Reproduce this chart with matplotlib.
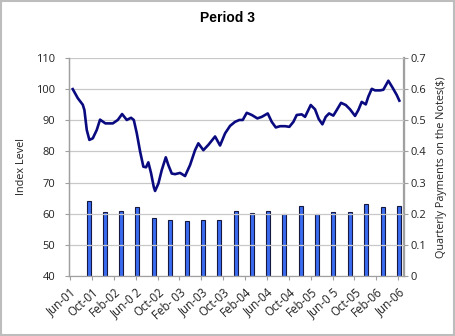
import matplotlib
matplotlib.use("Agg")
import matplotlib.pyplot as plt
from matplotlib.patches import Rectangle

# Index level, x in months since 1 Jun 2001
index_months = [0.49, 1.41, 2.32, 2.62, 3.05, 3.53, 4.15, 4.88, 5.48, 6.46, 7.81, 8.72,
                9.51, 10.37, 11.15, 11.65, 12.20, 12.80, 13.40, 13.89, 14.31, 14.81,
                15.30, 15.54, 16.15, 16.76, 17.50, 17.97, 18.59, 19.19, 20.11, 21.02,
                21.93, 22.85, 23.45, 24.37, 25.28, 26.51, 27.42, 28.34, 29.25, 30.16,
                30.95, 31.57, 32.30, 33.22, 34.24, 35.05, 36.14, 36.87, 37.61, 38.39,
                39.31, 40.09, 40.83, 41.44, 42.35, 42.96, 44.00, 44.79, 45.46, 46.13,
                46.74, 47.35, 48.13, 48.76, 49.54, 50.40, 51.19, 52.10, 52.71, 53.32,
                54.06, 54.53, 55.16, 55.75, 56.67, 57.27, 58.19, 58.92, 59.73, 60.20]
index_level = [100.0, 97.1, 95.0, 93.3, 86.9, 83.7, 84.2, 86.9, 90.2, 89.0, 89.0, 90.1,
               92.0, 90.1, 90.8, 90.1, 85.8, 80.0, 75.1, 74.9, 76.5, 73.0,
               68.6, 67.3, 69.7, 74.0, 78.1, 75.6, 72.9, 72.7, 73.1, 72.1,
               75.6, 80.4, 82.6, 80.4, 82.1, 84.8, 81.9, 85.8, 88.2, 89.5,
               90.1, 90.1, 92.4, 91.7, 90.6, 91.1, 92.2, 89.5, 87.7, 88.1,
               88.1, 87.9, 89.5, 91.7, 91.9, 91.1, 94.9, 93.5, 90.4, 88.7,
               91.1, 92.2, 91.5, 93.3, 95.6, 94.9, 93.5, 91.4, 93.3, 95.9,
               95.1, 97.6, 100.1, 99.6, 99.6, 99.8, 102.7, 100.6, 98.1, 96.3]

# Quarterly payments, x in months since 1 Jun 2001
payment_months = [3.53, 6.40, 9.32, 12.30, 15.36, 18.28, 21.33, 24.37, 27.29, 30.29,
                  33.27, 36.20, 39.18, 42.23, 45.21, 48.14, 51.19, 54.11, 57.17, 60.15]
payments = [0.240, 0.204, 0.210, 0.221, 0.187, 0.181, 0.177, 0.181, 0.181, 0.210,
            0.201, 0.210, 0.199, 0.224, 0.199, 0.204, 0.207, 0.231, 0.221, 0.224]

tick_months = [0, 4, 8, 12, 16, 20, 24, 28, 32, 36, 40, 44, 48, 52, 56, 60]
tick_labels = ["Jun-01", "Oct-01", "Feb-02", "Jun-0 2", "Oct-02", "Feb- 03", "Jun-03",
               "Oct-03", "Feb-04", "Jun-04", "Oct-04", "Feb-05", "Jun-0 5", "Oct-05",
               "Feb-06", "Jun-06"]

left_ticks = [40, 50, 60, 70, 80, 90, 100, 110]
right_ticks = [0, 0.1, 0.2, 0.3, 0.4, 0.5, 0.6, 0.7]
right_labels = ["0", "0.1", "0.2", "0.3", "0.4", "0.5", "0.6", "0.7"]

plt.rcParams["font.family"] = ["Open Sans", "DejaVu Sans"]

fig = plt.figure(figsize=(4.55, 3.36), dpi=100)
fig.patch.set_facecolor("white")
fig.add_artist(Rectangle((0.002, 0.003), 0.996, 0.994, transform=fig.transFigure,
                         fill=False, edgecolor="#bdbdbd", linewidth=1.5))

ax = fig.add_axes([0.1516, 0.1786, 0.7363, 0.6488])
ax2 = ax.twinx()

ax.set_zorder(ax2.get_zorder() + 1)
ax.patch.set_visible(False)

ax2.bar(payment_months, payments, width=0.75, color="#3a6cf2",
        edgecolor="#15193f", linewidth=0.8, zorder=3)
ax.plot(index_months, index_level, color="#0a0a80", linewidth=1.9,
        solid_joinstyle="round", zorder=4)

ax.set_xlim(-0.2, 61.05)
ax.set_ylim(40, 110)
ax2.set_ylim(0, 0.7)

ax.set_yticks(left_ticks)
ax.set_yticklabels([str(v) for v in left_ticks])
ax2.set_yticks(right_ticks)
ax2.set_yticklabels(right_labels)

ax.set_xticks(tick_months)
ax.set_xticklabels(tick_labels, rotation=42, ha="right", va="top",
                   rotation_mode="anchor")

ax.grid(axis="y", color="#c8c8c8", linewidth=0.9)
ax.set_axisbelow(True)

for a in (ax, ax2):
    a.spines["top"].set_visible(False)
    a.spines["left"].set_color("#a0a0a0")
    a.spines["right"].set_color("#a0a0a0")
    a.spines["bottom"].set_color("#a0a0a0")
ax2.spines["right"].set_linewidth(1.6)
ax.spines["left"].set_linewidth(1.0)

ax.tick_params(axis="y", labelsize=8, colors="#222222", length=3, width=0.8,
               pad=7, color="#a0a0a0")
ax.tick_params(axis="x", labelsize=8.3, colors="#222222", length=3, width=0.8,
               pad=4, color="#a0a0a0")
ax2.tick_params(axis="y", labelsize=8, colors="#222222", length=3, width=0.8,
                pad=2, color="#a0a0a0")

ax.set_ylabel("Index Level", fontsize=7.8, color="#222222", labelpad=14)
ax2.set_ylabel("Quarterly Payments on the Notes($)", fontsize=7.8,
               color="#222222", labelpad=7)
ax.yaxis.set_label_coords(-0.125, 0.5)

fig.text(0.5, 0.945, "Period 3", ha="center", va="center", fontsize=10,
         fontweight="bold", family=["Liberation Sans", "DejaVu Sans"])

fig.savefig("out.png", dpi=100)
